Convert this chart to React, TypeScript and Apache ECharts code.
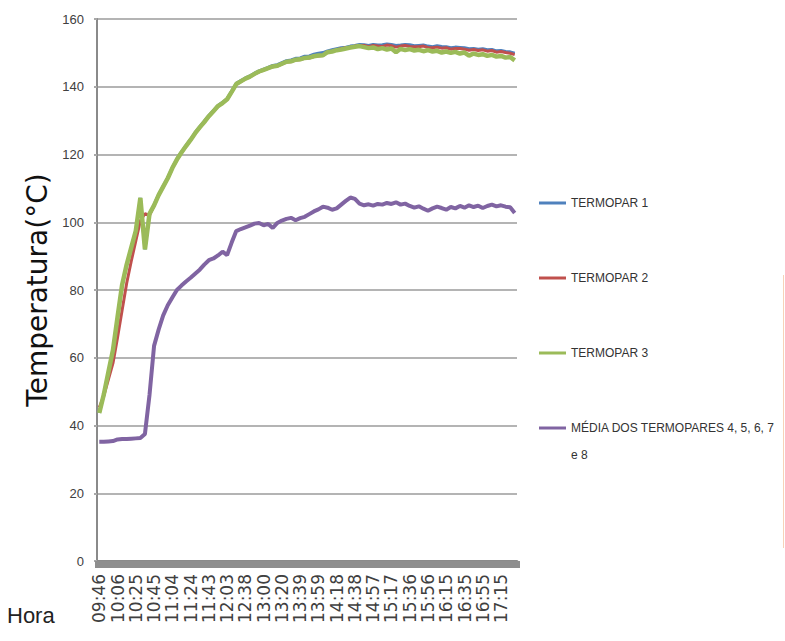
import React, { useEffect, useRef } from "react";
import * as echarts from "echarts";

// Sample times (category axis); every 4th one is a printed tick label
const TIMES = [
  "09:46", "09:51", "09:56", "10:01", "10:06", "10:11", "10:16", "10:20",
  "10:25", "10:30", "10:35", "10:40", "10:45", "10:50", "10:55", "10:59",
  "11:04", "11:09", "11:14", "11:19", "11:24", "11:29", "11:33", "11:38",
  "11:43", "11:48", "11:53", "11:58", "12:03", "12:12", "12:20", "12:29",
  "12:38", "12:44", "12:49", "12:55", "13:00", "13:05", "13:10", "13:15",
  "13:20", "13:25", "13:30", "13:34", "13:39", "13:44", "13:49", "13:54",
  "13:59", "14:04", "14:08", "14:13", "14:18", "14:23", "14:28", "14:33",
  "14:38", "14:43", "14:47", "14:52", "14:57", "15:02", "15:07", "15:12",
  "15:17", "15:22", "15:26", "15:31", "15:36", "15:41", "15:46", "15:51",
  "15:56", "16:01", "16:05", "16:10", "16:15", "16:20", "16:25", "16:30",
  "16:35", "16:40", "16:45", "16:50", "16:55", "17:00", "17:05", "17:10",
  "17:15", "17:20", "17:25", "17:29",
];

const TERMOPAR_1 = [
  43.7, 49.2, 55.8, 62.3, 72, 81.5, 87.5, 92.5, 97.5, 107.2,
  92, 102.5, 105.2, 108.2, 110.7, 113.2, 116.2, 118.7, 120.8, 122.7,
  124.5, 126.5, 128.2, 129.8, 131.5, 133, 134.5, 135.4, 136.5, 138.7,
  141, 141.8, 142.6, 143.2, 144, 144.7, 145.2, 145.7, 146.3, 146.5,
  147.1, 147.7, 147.9, 148.4, 148.5, 149, 149.1, 149.6, 149.9, 150.1,
  150.6, 150.9, 151.2, 151.5, 151.7, 152, 152.2, 152.5, 152.4, 152.2,
  152.5, 152.3, 152.4, 152.6, 152.5, 152.2, 152.3, 152.5, 152.4, 152.1,
  152.2, 152.3, 152, 151.8, 152.1, 151.9, 151.8, 151.5, 151.7, 151.6,
  151.5, 151.2, 151.3, 151.1, 151.2, 150.9, 151, 150.6, 150.7, 150.4,
  150.3, 149.9,
];

const TERMOPAR_2 = [
  45.3, 48.8, 53.6, 58.4, 66, 74, 82, 88.5, 94.5, 100.5,
  102.5, 102, 104.9, 107.9, 110.4, 112.9, 115.9, 118.4, 120.5, 122.4,
  124.2, 126.2, 127.9, 129.5, 131.2, 132.7, 134.2, 135.1, 136.2, 138.4,
  140.7, 141.5, 142.3, 142.9, 143.7, 144.4, 144.9, 145.4, 145.9, 146.1,
  146.7, 147.3, 147.4, 147.9, 148, 148.4, 148.5, 148.9, 149.1, 149.2,
  150.3, 150.5, 150.9, 151.2, 151.5, 151.7, 152, 152.1, 152.2, 151.8,
  152.2, 152, 151.9, 152.3, 152.1, 151.7, 152, 152.2, 151.9, 151.8,
  151.8, 152, 151.6, 151.5, 151.7, 151.4, 151.5, 151.1, 151.3, 151.3,
  151.1, 150.8, 151, 150.7, 150.9, 150.5, 150.7, 150.2, 150.4, 150.1,
  149.9, 149.5,
];

const TERMOPAR_3 = [
  43.7, 49.2, 55.8, 62.3, 72, 81.5, 87.5, 92.5, 97.5, 107.2,
  92, 102.5, 105, 108, 110.5, 113, 116, 118.5, 120.6, 122.5,
  124.3, 126.3, 128, 129.6, 131.3, 132.8, 134.3, 135.2, 136.3, 138.5,
  140.8, 141.6, 142.4, 143, 143.8, 144.5, 145, 145.5, 146, 146.2,
  146.8, 147.4, 147.5, 148, 148.1, 148.5, 148.6, 149, 149.2, 149.3,
  150.2, 150.4, 150.8, 151, 151.3, 151.6, 151.8, 152, 151.7, 151.4,
  151.6, 151.1, 151.4, 151, 151.3, 150.2, 151.2, 150.8, 151.1, 150.7,
  150.9, 150.5, 150.8, 150.4, 150.6, 150.1, 150.4, 150, 150.3, 149.8,
  150.1, 149.2, 149.8, 149.4, 149.6, 149.1, 149.4, 148.9, 149.1, 148.6,
  148.8, 147.8,
];

const MEDIA_4_A_8 = [
  35.2, 35.2, 35.3, 35.4, 35.9, 36, 36, 36.1, 36.2, 36.3,
  37.5, 49, 63.5, 68.3, 72.5, 75.5, 77.8, 80, 81.3, 82.5,
  83.6, 84.8, 86, 87.5, 88.8, 89.3, 90.2, 91.3, 90.3, 94,
  97.4, 98, 98.5, 99, 99.6, 99.8, 99.1, 99.5, 98.3, 99.8,
  100.5, 101, 101.3, 100.6, 101.2, 101.6, 102.4, 103.2, 103.8, 104.6,
  104.3, 103.7, 104.1, 105.2, 106.3, 107.3, 106.9, 105.5, 105, 105.3,
  104.9, 105.4, 105.2, 105.7, 105.4, 105.9, 105.2, 105.5, 104.8, 104.3,
  104.7, 104, 103.4, 104.1, 104.6, 104.2, 103.7, 104.5, 104.1, 104.8,
  104.3, 105, 104.5, 104.9, 104.2, 104.8, 105.2, 104.7, 105, 104.6,
  104.4, 102.7,
];

const SERIES_NAMES = [
  "TERMOPAR 1",
  "TERMOPAR 2",
  "TERMOPAR 3",
  "MÉDIA DOS TERMOPARES 4, 5, 6, 7 e 8",
];
const SERIES_COLORS = ["#4F81BD", "#C0504D", "#9BBB59", "#8064A2"];

export default function App() {
  const ref = useRef<HTMLDivElement>(null);

  useEffect(() => {
    if (!ref.current) return;
    const chart = echarts.init(ref.current, null, { renderer: "svg" });
    const dataSets = [TERMOPAR_1, TERMOPAR_2, TERMOPAR_3, MEDIA_4_A_8];
    const widths = [3, 3, 4.5, 4];
    const legendText = {
      fontFamily: "Liberation Sans",
      fontSize: 12,
      color: "#333333",
      lineHeight: 27,
    };
    const legendIcon = "path://M0,0H27V3H0Z";
    chart.setOption({
      animation: false,
      backgroundColor: "#ffffff",
      grid: { left: 97, right: 268, top: 19, bottom: 80, containLabel: false },
      legend: [
        {
          orient: "vertical",
          left: 534,
          top: 184.5,
          padding: 5,
          itemWidth: 27,
          itemHeight: 14,
          itemGap: 48,
          icon: legendIcon,
          data: SERIES_NAMES.slice(0, 3),
          textStyle: legendText,
          selectedMode: false,
        },
        {
          orient: "vertical",
          left: 534,
          top: 382.5,
          padding: 5,
          itemWidth: 27,
          itemHeight: 14,
          icon: legendIcon,
          data: [SERIES_NAMES[3]],
          formatter: () => " \nMÉDIA DOS TERMOPARES 4, 5, 6, 7\ne 8",
          textStyle: legendText,
          selectedMode: false,
        },
      ],
      graphic: [
        {
          type: "text",
          left: 7,
          top: 604,
          style: {
            text: "Hora",
            font: "22px 'Liberation Sans'",
            fill: "#222222",
          },
          silent: true,
        },
        {
          type: "line",
          shape: { x1: 783.5, y1: 275, x2: 783.5, y2: 548 },
          style: { stroke: "#F7D2B8", lineWidth: 1 },
          silent: true,
        },
      ],
      xAxis: {
        type: "category",
        data: TIMES,
        boundaryGap: true,
        axisLine: { show: true, lineStyle: { color: "#8A8A8A", width: 3 } },
        axisTick: {
          show: true,
          interval: 0,
          length: 7,
          lineStyle: { color: "#8E8E8E", width: 5 },
        },
        axisLabel: {
          interval: 3,
          rotate: 90,
          margin: 13,
          fontFamily: "DejaVu Sans",
          fontSize: 17,
          color: "#404040",
        },
        splitLine: { show: false },
      },
      yAxis: {
        type: "value",
        min: 0,
        max: 160,
        interval: 20,
        name: "Temperatura(°C)",
        nameLocation: "middle",
        nameGap: 46,
        nameTextStyle: {
          fontFamily: "DejaVu Sans",
          fontSize: 28,
          color: "#111111",
        },
        axisLine: { show: true, lineStyle: { color: "#8A8A8A", width: 2 } },
        axisTick: { show: true, length: 3, lineStyle: { color: "#A8A8A8", width: 2 } },
        axisLabel: {
          margin: 13,
          fontFamily: "Liberation Sans",
          fontSize: 13,
          color: "#404040",
        },
        splitLine: { show: true, lineStyle: { color: "#B4B4B4", width: 2 } },
      },
      series: dataSets.map((d, i) => ({
        name: SERIES_NAMES[i],
        type: "line",
        data: d,
        symbol: "none",
        showSymbol: false,
        color: SERIES_COLORS[i],
        lineStyle: { color: SERIES_COLORS[i], width: widths[i] },
        z: 2 + i,
      })),
    });
    return () => chart.dispose();
  }, []);

  return (
    <div
      ref={ref}
      style={{ position: "fixed", left: 0, top: 0, width: 785, height: 641 }}
    />
  );
}
